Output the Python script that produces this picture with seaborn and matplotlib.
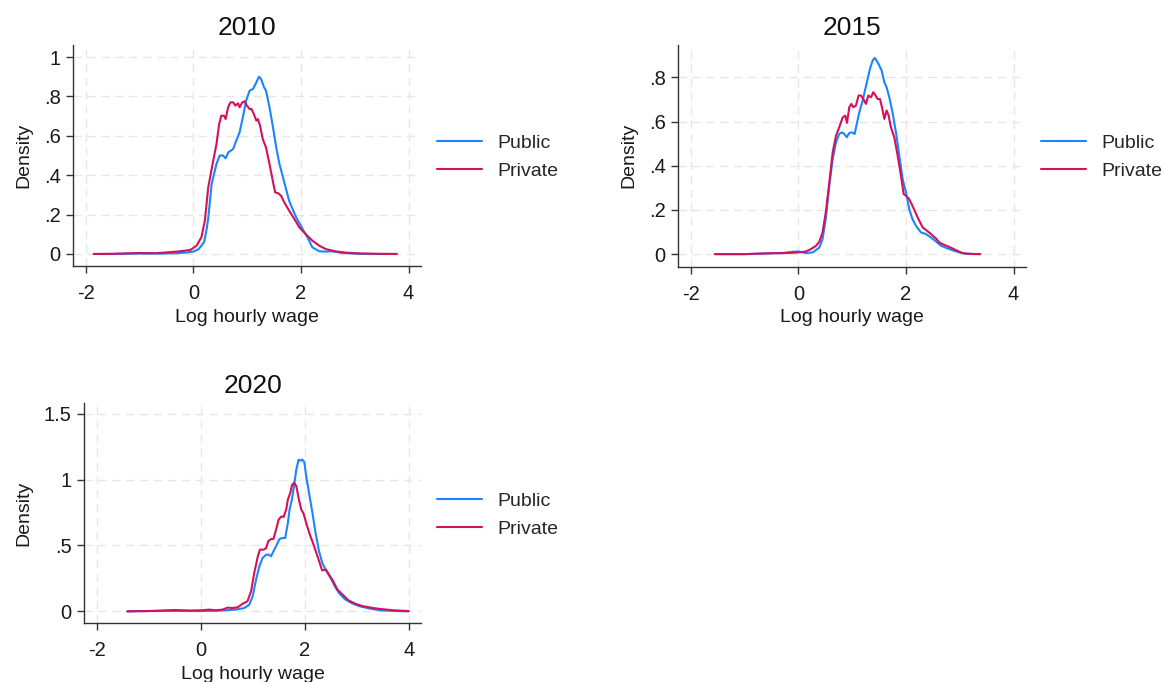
import numpy as np
import pandas as pd
import matplotlib
matplotlib.use("Agg")
import matplotlib.pyplot as plt
import seaborn as sns

# estilo parecido com o Stata
sns.set_theme(style="white")
plt.rcParams["font.family"] = ["Liberation Sans", "DejaVu Sans"]

# ---- dados (densidade do log do salario-hora) ----
years = ["2010", "2015", "2020"]
sectors = ["Public", "Private"]
colors = {"Public": "#1a85ff", "Private": "#d41159"}

x_2010_public = [-1.85, -1.5, -1.0, -0.6, -0.3, -0.1, 0.0, 0.1, 0.2, 0.25, 0.28, 0.34, 0.43, 0.49, 0.55,
                 0.60, 0.65, 0.74, 0.81, 0.86, 0.92, 0.98, 1.045, 1.11, 1.17, 1.22, 1.26, 1.31, 1.35,
                 1.415, 1.48, 1.54, 1.60, 1.69, 1.78, 1.91, 2.03, 2.12, 2.21, 2.34, 2.46, 2.58, 2.77,
                 3.07, 3.4, 3.78]
y_2010_public = [0.0, 0.0, 0.002, 0.002, 0.004, 0.008, 0.012, 0.025, 0.06, 0.13, 0.19, 0.355, 0.457, 0.50, 0.50,
                 0.486, 0.516, 0.533, 0.584, 0.618, 0.694, 0.778, 0.829, 0.838, 0.871, 0.90, 0.888, 0.849, 0.829,
                 0.745, 0.643, 0.541, 0.457, 0.364, 0.27, 0.186, 0.127, 0.085, 0.034, 0.0135, 0.012, 0.0135, 0.005,
                 0.001, 0.0, 0.0]

x_2010_private = [-1.85, -1.5, -1.0, -0.7, -0.5, -0.31, -0.06, 0.06, 0.15, 0.215, 0.277, 0.37, 0.43, 0.48,
                  0.52, 0.57, 0.60, 0.646, 0.69, 0.74, 0.78, 0.83, 0.86, 0.91, 0.953, 0.996, 1.045, 1.08,
                  1.125, 1.17, 1.20, 1.24, 1.29, 1.35, 1.415, 1.476, 1.52, 1.58, 1.63, 1.69, 1.78, 1.876,
                  1.97, 2.09, 2.21, 2.34, 2.46, 2.64, 2.83, 3.07, 3.4, 3.78]
y_2010_private = [0.0, 0.001, 0.005, 0.004, 0.008, 0.012, 0.02, 0.042, 0.085, 0.17, 0.338, 0.474, 0.558, 0.66,
                  0.702, 0.702, 0.685, 0.745, 0.77, 0.77, 0.753, 0.765, 0.745, 0.77, 0.775, 0.753, 0.736, 0.736,
                  0.71, 0.677, 0.685, 0.651, 0.584, 0.541, 0.457, 0.372, 0.313, 0.308, 0.296, 0.262, 0.22, 0.178,
                  0.135, 0.10, 0.068, 0.042, 0.025, 0.0135, 0.007, 0.003, 0.001, 0.0]

x_2015_public = [-1.55, -1.0, -0.6, -0.3, -0.1, 0.0, 0.14, 0.27, 0.39, 0.45, 0.51, 0.576, 0.638, 0.70, 0.76,
                 0.81, 0.855, 0.90, 0.947, 0.997, 1.046, 1.08, 1.133, 1.195, 1.245, 1.288, 1.33, 1.38, 1.418,
                 1.455, 1.505, 1.548, 1.598, 1.64, 1.69, 1.75, 1.814, 1.876, 1.938, 2.0, 2.06, 2.12, 2.186,
                 2.28, 2.37, 2.46, 2.56, 2.65, 2.77, 2.93, 3.11, 3.38]
y_2015_public = [0.0, 0.0, 0.003, 0.005, 0.011, 0.012, 0.005, 0.008, 0.03, 0.068, 0.159, 0.31, 0.43, 0.506, 0.544,
                 0.551, 0.544, 0.529, 0.548, 0.551, 0.544, 0.582, 0.642, 0.695, 0.748, 0.793, 0.838, 0.876, 0.888,
                 0.876, 0.853, 0.831, 0.778, 0.755, 0.71, 0.642, 0.551, 0.446, 0.34, 0.279, 0.204, 0.159, 0.128,
                 0.098, 0.091, 0.076, 0.057, 0.038, 0.026, 0.012, 0.0015, 0.0]

x_2015_private = [-1.55, -1.0, -0.5, -0.2, 0.02, 0.14, 0.235, 0.33, 0.39, 0.45, 0.51, 0.576, 0.638, 0.70, 0.76,
                  0.824, 0.873, 0.904, 0.947, 0.985, 1.02, 1.07, 1.12, 1.164, 1.207, 1.257, 1.30, 1.35, 1.393,
                  1.43, 1.474, 1.517, 1.554, 1.598, 1.64, 1.678, 1.72, 1.783, 1.845, 1.907, 1.957, 2.0, 2.06,
                  2.12, 2.217, 2.31, 2.43, 2.557, 2.62, 2.68, 2.8, 2.93, 3.05, 3.2, 3.38]
y_2015_private = [0.0, 0.0, 0.004, 0.005, 0.008, 0.012, 0.023, 0.038, 0.056, 0.098, 0.189, 0.325, 0.46, 0.536, 0.574,
                  0.619, 0.627, 0.594, 0.665, 0.68, 0.665, 0.672, 0.718, 0.718, 0.702, 0.68, 0.718, 0.71, 0.733,
                  0.72, 0.702, 0.702, 0.665, 0.612, 0.65, 0.627, 0.574, 0.529, 0.446, 0.355, 0.272, 0.264, 0.249,
                  0.219, 0.166, 0.121, 0.098, 0.071, 0.053, 0.045, 0.033, 0.018, 0.0045, 0.001, 0.0]

x_2020_public = [-1.41, -1.0, -0.5, 0.0, 0.36, 0.68, 0.84, 0.935, 1.0, 1.065, 1.13, 1.19, 1.26, 1.31, 1.355,
                 1.40, 1.45, 1.516, 1.58, 1.626, 1.677, 1.71, 1.755, 1.794, 1.84, 1.884, 1.92, 1.955, 1.994,
                 2.03, 2.084, 2.15, 2.21, 2.277, 2.34, 2.42, 2.50, 2.58, 2.66, 2.77, 2.90, 3.06, 3.26, 3.45,
                 3.7, 4.0]
y_2020_public = [0.0, 0.002, 0.003, 0.002, 0.005, 0.013, 0.025, 0.05, 0.114, 0.24, 0.342, 0.405, 0.43, 0.43, 0.418,
                 0.456, 0.494, 0.549, 0.557, 0.557, 0.67, 0.772, 0.848, 0.95, 1.076, 1.152, 1.144, 1.152, 1.132,
                 1.025, 0.90, 0.747, 0.595, 0.456, 0.367, 0.304, 0.253, 0.19, 0.139, 0.094, 0.063, 0.038, 0.02, 0.008,
                 0.003, 0.0]

x_2020_private = [-1.41, -1.0, -0.5, -0.2, 0.03, 0.16, 0.29, 0.42, 0.52, 0.61, 0.71, 0.81, 0.90, 0.97, 1.03,
                  1.10, 1.14, 1.21, 1.26, 1.30, 1.355, 1.40, 1.45, 1.50, 1.55, 1.594, 1.645, 1.677, 1.723,
                  1.76, 1.80, 1.84, 1.89, 1.935, 1.98, 2.03, 2.10, 2.16, 2.226, 2.29, 2.335, 2.41, 2.47, 2.55,
                  2.63, 2.73, 2.84, 2.97, 3.13, 3.32, 3.45, 3.7, 4.0]
y_2020_private = [0.0, 0.002, 0.01, 0.006, 0.008, 0.013, 0.008, 0.013, 0.028, 0.025, 0.03, 0.058, 0.076, 0.152, 0.29,
                  0.418, 0.468, 0.468, 0.48, 0.532, 0.549, 0.549, 0.62, 0.696, 0.72, 0.716, 0.772, 0.848, 0.899,
                  0.962, 0.975, 0.95, 0.848, 0.772, 0.742, 0.67, 0.582, 0.519, 0.443, 0.367, 0.311, 0.316, 0.278, 0.228,
                  0.165, 0.127, 0.084, 0.058, 0.038, 0.025, 0.018, 0.008, 0.002]

x_ticks = [-2, 0, 2, 4]
y_ticks_2010 = [0, 0.2, 0.4, 0.6, 0.8, 1.0]
y_labels_2010 = ["0", ".2", ".4", ".6", ".8", "1"]
y_ticks_2015 = [0, 0.2, 0.4, 0.6, 0.8]
y_labels_2015 = ["0", ".2", ".4", ".6", ".8"]
y_ticks_2020 = [0, 0.5, 1.0, 1.5]
y_labels_2020 = ["0", ".5", "1", "1.5"]

# montando o DataFrame longo
partes = []
for ano, xs_pub, ys_pub, xs_priv, ys_priv in [
    ("2010", x_2010_public, y_2010_public, x_2010_private, y_2010_private),
    ("2015", x_2015_public, y_2015_public, x_2015_private, y_2015_private),
    ("2020", x_2020_public, y_2020_public, x_2020_private, y_2020_private),
]:
    partes.append(pd.DataFrame({"ano": ano, "setor": "Public", "wage": xs_pub, "density": ys_pub}))
    partes.append(pd.DataFrame({"ano": ano, "setor": "Private", "wage": xs_priv, "density": ys_priv}))
df = pd.concat(partes, ignore_index=True)

# ---- layout (posicoes em pixels da figura 1165x682) ----
W, H = 1165, 682
fig = plt.figure(figsize=(W / 100, H / 100), dpi=100)


def px_rect(left, top, right, bottom):
    return [left / W, 1 - bottom / H, (right - left) / W, (bottom - top) / H]


paineis = {
    "2010": dict(rect=px_rect(73.3, 45, 421, 266), ylim=(-0.061, 1.061),
                 yticks=y_ticks_2010, ylabels=y_labels_2010, xlim=(-2.23, 4.23), leg=(437, 157)),
    "2015": dict(rect=px_rect(678.3, 45, 1026, 266.5), ylim=(-0.056, 0.9466),
                 yticks=y_ticks_2015, ylabels=y_labels_2015, xlim=(-2.23, 4.23), leg=(1041.4, 157)),
    "2020": dict(rect=px_rect(84.3, 402.7, 421, 623.3), ylim=(-0.091, 1.584),
                 yticks=y_ticks_2020, ylabels=y_labels_2020, xlim=(-2.238, 4.238), leg=(437, 515)),
}

for ano in years:
    cfg = paineis[ano]
    ax = fig.add_axes(cfg["rect"])
    sub = df[df["ano"] == ano]
    sns.lineplot(data=sub, x="wage", y="density", hue="setor", hue_order=sectors,
                 palette=colors, linewidth=1.5, errorbar=None, ax=ax)

    ax.set_xlim(*cfg["xlim"])
    ax.set_ylim(*cfg["ylim"])
    ax.set_xticks(x_ticks)
    ax.set_xticklabels([str(t) for t in x_ticks])
    ax.set_yticks(cfg["yticks"])
    ax.set_yticklabels(cfg["ylabels"])

    ax.grid(True, color="#e6e6e6", linestyle=(0, (6, 4)), linewidth=1.0)
    ax.set_axisbelow(True)
    for lado in ["top", "right"]:
        ax.spines[lado].set_visible(False)
    for lado in ["left", "bottom"]:
        ax.spines[lado].set_color("#333333")
        ax.spines[lado].set_linewidth(1.0)
    ax.tick_params(axis="both", direction="out", length=5, width=1.0, color="#333333",
                   labelsize=14.5, labelcolor="#1a1a1a", bottom=True, left=True)
    ax.tick_params(axis="x", pad=8)
    ax.tick_params(axis="y", pad=4)

    ax.set_title(ano, fontsize=19, pad=7, color="#111111")
    ax.set_xlabel("Log hourly wage", fontsize=14, labelpad=4, color="#1a1a1a")
    ax.set_ylabel("Density", fontsize=14, labelpad=8, color="#1a1a1a")

    handles, labels = ax.get_legend_handles_labels()
    lx, ly = cfg["leg"]
    ax.legend(handles, labels, loc="center left", bbox_to_anchor=(lx / W, 1 - ly / H),
              bbox_transform=fig.transFigure, frameon=False, fontsize=14,
              handlelength=2.3, handletextpad=0.8, borderpad=0, borderaxespad=0,
              labelspacing=0.55)

fig.savefig("out.png", dpi=100)
